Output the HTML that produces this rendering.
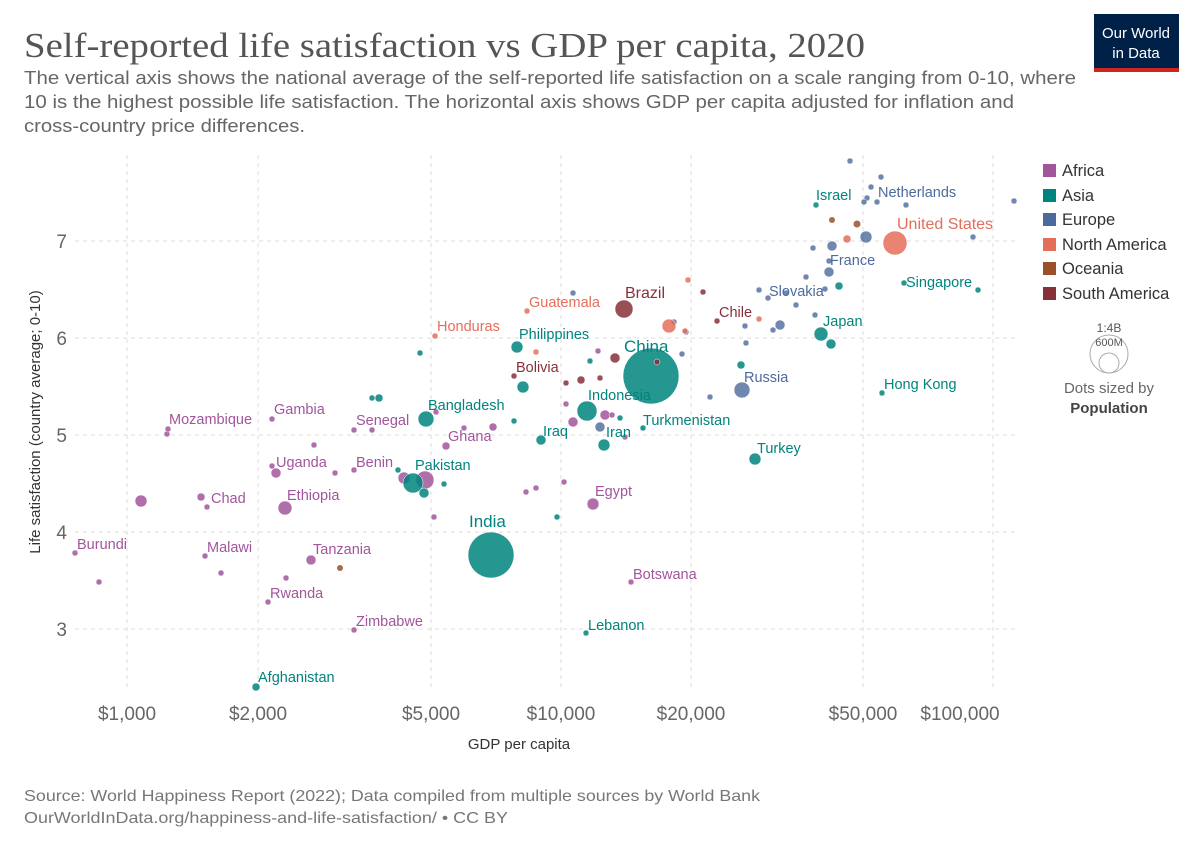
<!DOCTYPE html>
<html><head><meta charset="utf-8"><style>
body{margin:0;background:#fff;width:1204px;height:853px;overflow:hidden;font-family:"Liberation Sans",sans-serif}
</style></head><body>
<svg width="1204" height="853" xmlns="http://www.w3.org/2000/svg" font-family="Liberation Sans, sans-serif">
<text x="24" y="57" font-family="Liberation Serif, serif" font-size="35" fill="#555" textLength="841" lengthAdjust="spacingAndGlyphs">Self-reported life satisfaction vs GDP per capita, 2020</text>
<g font-size="18.5" fill="#666">
<text x="24" y="84" textLength="1052" lengthAdjust="spacingAndGlyphs">The vertical axis shows the national average of the self-reported life satisfaction on a scale ranging from 0-10, where</text>
<text x="24" y="108" textLength="990" lengthAdjust="spacingAndGlyphs">10 is the highest possible life satisfaction. The horizontal axis shows GDP per capita adjusted for inflation and</text>
<text x="24" y="132" textLength="281" lengthAdjust="spacingAndGlyphs">cross-country price differences.</text></g>
<rect x="1094" y="14" width="85" height="54" fill="#002147"/><rect x="1094" y="68" width="85" height="4" fill="#ce261e"/>
<text x="1136" y="38" font-size="15" fill="#fff" text-anchor="middle">Our World</text><text x="1136" y="58" font-size="15" fill="#fff" text-anchor="middle">in Data</text>
<g stroke="#ddd" stroke-dasharray="4,4" stroke-width="1">
<line x1="75" x2="1015" y1="241" y2="241"/><line x1="75" x2="1015" y1="338" y2="338"/><line x1="75" x2="1015" y1="435" y2="435"/><line x1="75" x2="1015" y1="532" y2="532"/><line x1="75" x2="1015" y1="629" y2="629"/>
<line x1="127" x2="127" y1="155" y2="690"/><line x1="258" x2="258" y1="155" y2="690"/><line x1="431" x2="431" y1="155" y2="690"/><line x1="561" x2="561" y1="155" y2="690"/><line x1="691" x2="691" y1="155" y2="690"/><line x1="863" x2="863" y1="155" y2="690"/><line x1="993" x2="993" y1="155" y2="690"/>
</g>
<g font-size="19" fill="#666" text-anchor="end"><text x="67" y="248">7</text><text x="67" y="345">6</text><text x="67" y="442">5</text><text x="67" y="539">4</text><text x="67" y="636">3</text></g>
<g font-size="19" fill="#666" text-anchor="middle"><text x="127" y="720">$1,000</text><text x="258" y="720">$2,000</text><text x="431" y="720">$5,000</text><text x="561" y="720">$10,000</text><text x="691" y="720">$20,000</text><text x="863" y="720">$50,000</text><text x="960" y="720">$100,000</text></g>
<text x="519" y="749" font-size="15" fill="#333" text-anchor="middle">GDP per capita</text>
<text transform="translate(40,422) rotate(-90)" font-size="15" fill="#333" text-anchor="middle">Life satisfaction (country average; 0-10)</text>
<g fill="#a2559c" fill-opacity="0.85" stroke="#fff" stroke-width="0.5">
<circle cx="75" cy="553" r="3"/><circle cx="99" cy="582" r="3"/><circle cx="167" cy="434" r="3"/><circle cx="168" cy="429" r="3"/><circle cx="141" cy="501" r="6"/><circle cx="201" cy="497" r="4"/><circle cx="207" cy="507" r="3"/><circle cx="272" cy="419" r="3"/><circle cx="272" cy="466" r="3"/><circle cx="276" cy="473" r="5"/><circle cx="285" cy="508" r="7"/><circle cx="205" cy="556" r="3"/><circle cx="221" cy="573" r="3"/><circle cx="268" cy="602" r="3"/><circle cx="286" cy="578" r="3"/><circle cx="311" cy="560" r="5"/><circle cx="354" cy="630" r="3"/><circle cx="354" cy="430" r="3"/><circle cx="372" cy="430" r="3"/><circle cx="314" cy="445" r="3"/><circle cx="354" cy="470" r="3"/><circle cx="335" cy="473" r="3"/><circle cx="446" cy="446" r="4"/><circle cx="436" cy="412" r="3"/><circle cx="464" cy="428" r="3"/><circle cx="493" cy="427" r="4"/><circle cx="425" cy="480" r="9"/><circle cx="404" cy="478" r="6"/><circle cx="434" cy="517" r="3"/><circle cx="593" cy="504" r="6"/><circle cx="526" cy="492" r="3"/><circle cx="536" cy="488" r="3"/><circle cx="564" cy="482" r="3"/><circle cx="631" cy="582" r="3"/><circle cx="573" cy="422" r="5"/><circle cx="605" cy="415" r="5"/><circle cx="625" cy="437" r="3"/><circle cx="612" cy="415" r="3"/><circle cx="598" cy="351" r="3"/><circle cx="566" cy="404" r="3"/>
</g>
<g fill="#00847e" fill-opacity="0.85" stroke="#fff" stroke-width="0.5">
<circle cx="256" cy="687" r="4"/><circle cx="491" cy="555" r="23"/><circle cx="413" cy="483" r="10"/><circle cx="424" cy="493" r="5"/><circle cx="444" cy="484" r="3"/><circle cx="398" cy="470" r="3"/><circle cx="426" cy="419" r="8"/><circle cx="372" cy="398" r="3"/><circle cx="379" cy="398" r="4"/><circle cx="420" cy="353" r="3"/><circle cx="517" cy="347" r="6"/><circle cx="523" cy="387" r="6"/><circle cx="587" cy="411" r="10"/><circle cx="651" cy="376" r="28"/><circle cx="541" cy="440" r="5"/><circle cx="604" cy="445" r="6"/><circle cx="643" cy="428" r="3"/><circle cx="620" cy="418" r="3"/><circle cx="557" cy="517" r="3"/><circle cx="586" cy="633" r="3"/><circle cx="755" cy="459" r="6"/><circle cx="821" cy="334" r="7"/><circle cx="831" cy="344" r="5"/><circle cx="904" cy="283" r="3"/><circle cx="978" cy="290" r="3"/><circle cx="882" cy="393" r="3"/><circle cx="816" cy="205" r="3"/><circle cx="839" cy="286" r="4"/><circle cx="741" cy="365" r="4"/><circle cx="514" cy="421" r="3"/><circle cx="590" cy="361" r="3"/>
</g>
<g fill="#4c6a9c" fill-opacity="0.8" stroke="#fff" stroke-width="0.5">
<circle cx="742" cy="390" r="8"/><circle cx="867" cy="198" r="3"/><circle cx="850" cy="161" r="3"/><circle cx="881" cy="177" r="3"/><circle cx="871" cy="187" r="3"/><circle cx="864" cy="202" r="3"/><circle cx="877" cy="202" r="3"/><circle cx="906" cy="205" r="3"/><circle cx="1014" cy="201" r="3"/><circle cx="973" cy="237" r="3"/><circle cx="832" cy="246" r="5"/><circle cx="866" cy="237" r="6"/><circle cx="829" cy="272" r="5"/><circle cx="813" cy="248" r="3"/><circle cx="806" cy="277" r="3"/><circle cx="815" cy="315" r="3"/><circle cx="829" cy="261" r="3"/><circle cx="759" cy="290" r="3"/><circle cx="768" cy="298" r="3"/><circle cx="786" cy="293" r="3"/><circle cx="796" cy="305" r="3"/><circle cx="780" cy="325" r="5"/><circle cx="773" cy="330" r="3"/><circle cx="745" cy="326" r="3"/><circle cx="746" cy="343" r="3"/><circle cx="710" cy="397" r="3"/><circle cx="682" cy="354" r="3"/><circle cx="674" cy="322" r="3"/><circle cx="600" cy="427" r="5"/><circle cx="573" cy="293" r="3"/><circle cx="686" cy="332" r="3"/><circle cx="825" cy="289" r="3"/>
</g>
<g fill="#e56e5a" fill-opacity="0.85" stroke="#fff" stroke-width="0.5">
<circle cx="895" cy="243" r="12"/><circle cx="847" cy="239" r="4"/><circle cx="527" cy="311" r="3"/><circle cx="435" cy="336" r="3"/><circle cx="669" cy="326" r="7"/><circle cx="688" cy="280" r="3"/><circle cx="759" cy="319" r="3"/><circle cx="536" cy="352" r="3"/><circle cx="685" cy="331" r="3"/>
</g>
<g fill="#9a5129" fill-opacity="0.85"><circle cx="857" cy="224" r="3.5"/><circle cx="832" cy="220" r="3"/><circle cx="340" cy="568" r="3"/></g>
<g fill="#883039" fill-opacity="0.85" stroke="#fff" stroke-width="0.5">
<circle cx="624" cy="309" r="9"/><circle cx="717" cy="321" r="3"/><circle cx="703" cy="292" r="3"/><circle cx="514" cy="376" r="3"/><circle cx="581" cy="380" r="4"/><circle cx="566" cy="383" r="3"/><circle cx="615" cy="358" r="5"/><circle cx="600" cy="378" r="3"/><circle cx="657" cy="362" r="3"/>
</g>
<g font-size="14.5" fill="#a2559c">
<text x="77" y="549">Burundi</text><text x="169" y="424">Mozambique</text><text x="211" y="503">Chad</text><text x="274" y="414">Gambia</text><text x="276" y="467">Uganda</text><text x="287" y="500">Ethiopia</text><text x="207" y="552">Malawi</text><text x="270" y="598">Rwanda</text><text x="313" y="554">Tanzania</text><text x="356" y="626">Zimbabwe</text><text x="356" y="425">Senegal</text><text x="356" y="467">Benin</text><text x="448" y="441">Ghana</text><text x="595" y="496">Egypt</text><text x="633" y="579">Botswana</text>
</g>
<g font-size="14.5" fill="#00847e">
<text x="258" y="682">Afghanistan</text><text x="469" y="527" font-size="17">India</text><text x="415" y="470">Pakistan</text><text x="428" y="410">Bangladesh</text><text x="519" y="339">Philippines</text><text x="588" y="400">Indonesia</text><text x="624" y="352" font-size="17">China</text><text x="543" y="436">Iraq</text><text x="606" y="437">Iran</text><text x="643" y="425">Turkmenistan</text><text x="588" y="630">Lebanon</text><text x="757" y="453">Turkey</text><text x="823" y="326">Japan</text><text x="906" y="287">Singapore</text><text x="884" y="389">Hong Kong</text><text x="816" y="200">Israel</text>
</g>
<g font-size="14.5" fill="#4c6a9c"><text x="744" y="382">Russia</text><text x="878" y="197">Netherlands</text><text x="830" y="265">France</text><text x="769" y="296">Slovakia</text></g>
<g font-size="14.5" fill="#e56e5a"><text x="897" y="229" font-size="16">United States</text><text x="529" y="307">Guatemala</text><text x="437" y="331">Honduras</text></g>
<g font-size="14.5" fill="#883039"><text x="625" y="298" font-size="16">Brazil</text><text x="719" y="317">Chile</text><text x="516" y="372">Bolivia</text></g>
<g font-size="16.5" fill="#333">
<rect x="1043" y="164" width="13" height="13" fill="#a2559c"/><text x="1062" y="176">Africa</text>
<rect x="1043" y="189" width="13" height="13" fill="#00847e"/><text x="1062" y="201">Asia</text>
<rect x="1043" y="213" width="13" height="13" fill="#4c6a9c"/><text x="1062" y="225">Europe</text>
<rect x="1043" y="238" width="13" height="13" fill="#e56e5a"/><text x="1062" y="250">North America</text>
<rect x="1043" y="262" width="13" height="13" fill="#9a5129"/><text x="1062" y="274">Oceania</text>
<rect x="1043" y="287" width="13" height="13" fill="#883039"/><text x="1062" y="299">South America</text>
</g>
<circle cx="1109" cy="354" r="19" fill="none" stroke="#aaa"/><circle cx="1109" cy="363" r="10" fill="none" stroke="#aaa"/>
<text x="1109" y="332" font-size="12" fill="#555" text-anchor="middle">1:4B</text><text x="1109" y="346" font-size="11" fill="#555" text-anchor="middle">600M</text>
<text x="1109" y="393" font-size="15" fill="#666" text-anchor="middle">Dots sized by</text><text x="1109" y="413" font-size="15" font-weight="bold" fill="#444" text-anchor="middle">Population</text>
<text x="24" y="801" font-size="16" fill="#777" textLength="736" lengthAdjust="spacingAndGlyphs">Source: World Happiness Report (2022); Data compiled from multiple sources by World Bank</text>
<text x="24" y="823" font-size="16" fill="#777" textLength="484" lengthAdjust="spacingAndGlyphs">OurWorldInData.org/happiness-and-life-satisfaction/ • CC BY</text>
</svg>
</body></html>
